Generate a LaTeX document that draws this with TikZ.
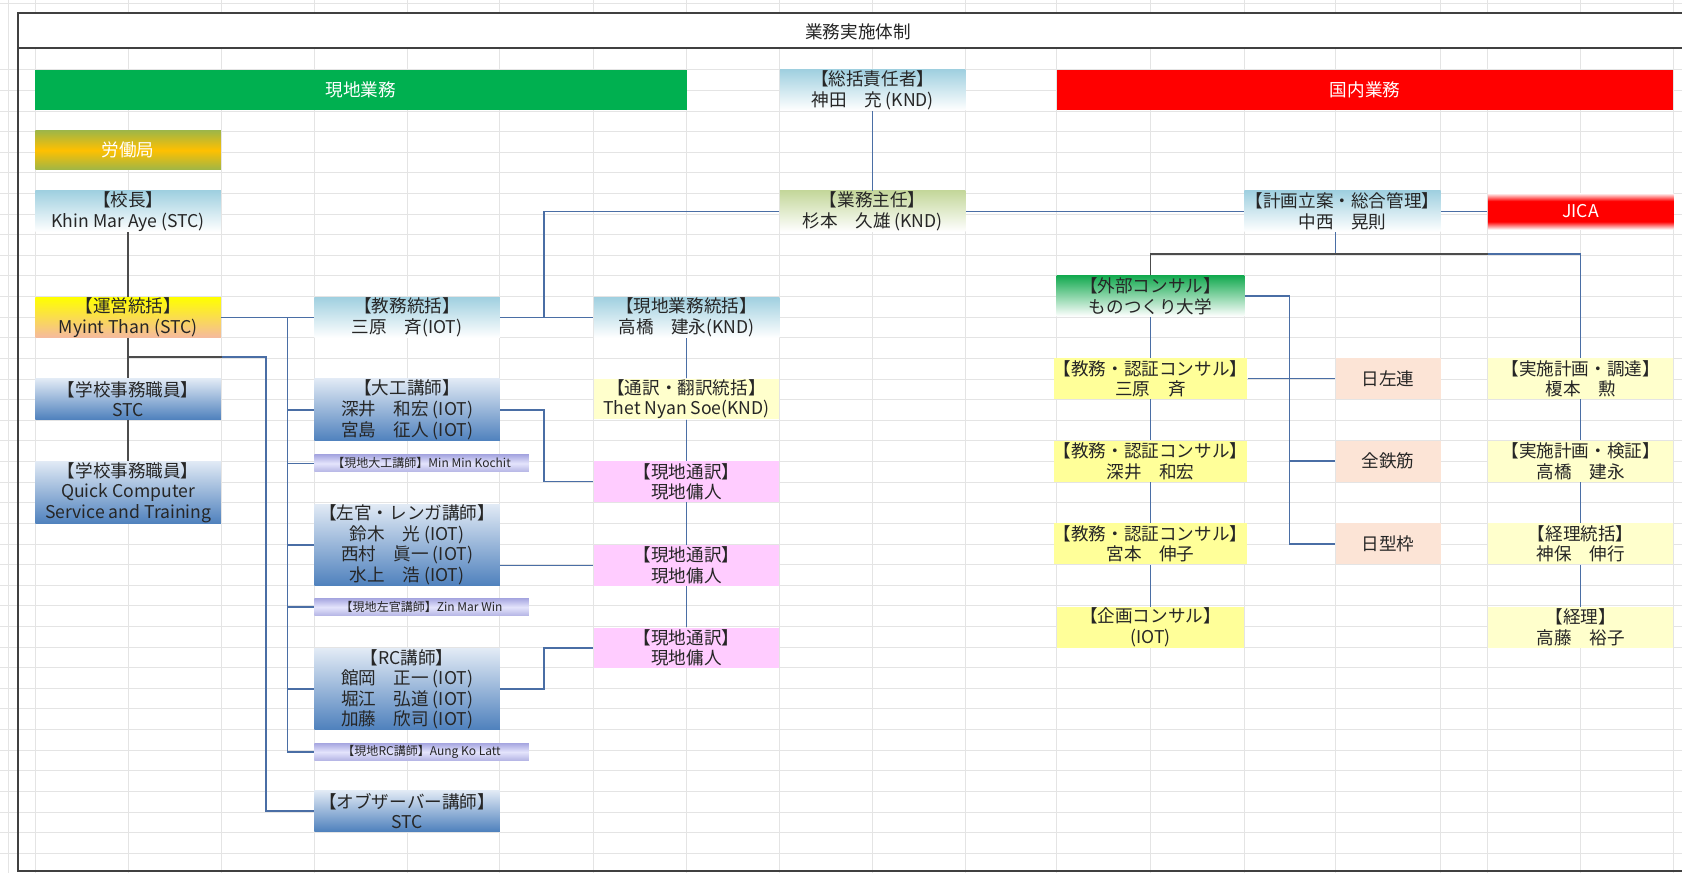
\documentclass[tikz,border=0pt]{standalone}
\usepackage{fontspec}
\setmainfont{Noto Sans CJK JP}
\usetikzlibrary{shadings}
\definecolor{hgreen}{RGB}{0,176,80}
\definecolor{lineblue}{RGB}{74,110,165}
\definecolor{gridc}{RGB}{228,228,228}
\definecolor{lbtop}{RGB}{160,208,224}
\definecolor{lgtop}{RGB}{196,215,155}
\definecolor{ggtop}{RGB}{20,170,80}
\definecolor{bltop}{RGB}{225,234,245}
\definecolor{blbot}{RGB}{79,129,189}
\definecolor{olive1}{RGB}{160,182,70}
\definecolor{gold1}{RGB}{255,192,0}
\definecolor{salmon1}{RGB}{245,185,160}
\definecolor{ylight}{RGB}{255,255,204}
\definecolor{ystrong}{RGB}{255,255,153}
\definecolor{pink1}{RGB}{255,204,255}
\definecolor{peach1}{RGB}{252,228,214}
\definecolor{lavA}{RGB}{168,168,225}
\definecolor{lavB}{RGB}{228,228,252}
\definecolor{lavC}{RGB}{180,180,228}
\pgfdeclareverticalshading{rodoshade}{100bp}{color(0bp)=(olive1); color(25bp)=(olive1); color(50bp)=(gold1); color(75bp)=(olive1); color(100bp)=(olive1)}
\pgfdeclareverticalshading{jicashade}{100bp}{color(0bp)=(white); color(25bp)=(white); color(36bp)=(red); color(64bp)=(red); color(75bp)=(white); color(100bp)=(white)}
\pgfdeclareverticalshading{lavshade}{100bp}{color(0bp)=(lavC); color(25bp)=(lavC); color(50bp)=(lavB); color(75bp)=(lavA); color(100bp)=(lavA)}
\tikzset{
  box/.style={rectangle, inner sep=0pt, align=center, text=black!85,
    font=\fontsize{8.2}{9.6}\selectfont},
  hdr/.style={box, text=white},
  lblue/.style={box, top color=lbtop, bottom color=white},
  lgreen/.style={box, top color=lgtop, bottom color=white},
  ggreen/.style={box, top color=ggtop, bottom color=white},
  bluebox/.style={box, top color=bltop, bottom color=blbot},
  unei/.style={box, top color=yellow, bottom color=salmon1},
  lav/.style={box, shade, shading=lavshade, font=\fontsize{5.6}{6}\selectfont},
  yl/.style={box, fill=ylight},
  ys/.style={box, fill=ystrong},
  pk/.style={box, fill=pink1},
  pc/.style={box, fill=peach1},
  wide/.style={minimum width=86.5pt},
  h2/.style={minimum height=19pt},
  h3/.style={minimum height=29pt},
  h4/.style={minimum height=38pt},
  bl/.style={draw=lineblue, line width=0.75pt},
  dk/.style={draw=black!70, line width=0.85pt},
  gridl/.style={draw=gridc, line width=0.4pt},
  frame/.style={draw=black!75, line width=1.1pt}
}
\begin{document}
\begin{tikzpicture}[x=0.5pt,y=-0.5pt]
\useasboundingbox (0,0) rectangle (1568,814);
\fill[white] (0,0) rectangle (1568,814);
% spreadsheet grid
\foreach \x in {8,33,120,206,293,380,466,553,640,727,813,900,985,1072,1160,1245,1343,1387,1473,1560}
  \draw[gridl] (\x,0) -- (\x,814);
\foreach \i in {0,...,38}
  \draw[gridl] (0,{65+19.22*\i}) -- (1568,{65+19.22*\i});
\draw[gridl] (0,3) -- (1568,3);
\fill[white] (17,12) rectangle (1568,45);
% frame
\draw[frame] (1568,12) -- (17,12) -- (17,812) -- (1568,812);
\draw[frame] (17,45) -- (1568,45);
\node[box] (title) at (800,30) {業務実施体制};

% headers
\node[hdr, fill=hgreen, minimum width=303.5pt, h2] (gen) at (336.5,84) {現地業務};
\node[hdr, fill=red, minimum width=287.5pt, h2] (koku) at (1272.5,84) {国内業務};
\node[lblue, wide, h2] (sokatsu) at (813.5,84) {【総括責任者】\\神田　充 (KND)};

% left column
\node[hdr, shade, shading=rodoshade, wide, minimum height=18pt] (rodo) at (119.5,140) {労働局};
\node[lblue, wide, h2] (kocho) at (119.5,197) {【校長】\\Khin Mar Aye (STC)};
\node[unei, wide, h2] (unei) at (119.5,296) {【運営統括】\\Myint Than (STC)};
\node[bluebox, wide, h2] (jimu1) at (119.5,372) {【学校事務職員】\\STC};
\node[bluebox, wide, h3] (jimu2) at (119.5,459) {【学校事務職員】\\Quick Computer\\Service and Training};

% middle
\node[lgreen, wide, h2] (shunin) at (813.5,197) {【業務主任】\\杉本　久雄 (KND)};
\node[lblue, wide, h2] (kyomu) at (379.5,296) {【教務統括】\\三原　斉(IOT)};
\node[lblue, wide, h2] (genchi) at (640,296) {【現地業務統括】\\高橋　建永(KND)};
\node[bluebox, wide, h3] (daiku) at (379.5,382) {【大工講師】\\深井　和宏 (IOT)\\宮島　征人 (IOT)};
\node[lav, minimum width=100pt, minimum height=8pt] (gdaiku) at (393,432) {【現地大工講師】Min Min Kochit};
\node[bluebox, wide, h4] (sakan) at (379.5,508) {【左官・レンガ講師】\\鈴木　光 (IOT)\\西村　眞一 (IOT)\\水上　浩 (IOT)};
\node[lav, minimum width=100pt, minimum height=8pt] (gsakan) at (393,566) {【現地左官講師】Zin Mar Win};
\node[bluebox, wide, minimum height=37.5pt] (rc) at (379.5,642.5) {【RC講師】\\館岡　正一 (IOT)\\堀江　弘道 (IOT)\\加藤　欣司 (IOT)};
\node[lav, minimum width=100pt, minimum height=8pt] (grc) at (393,701) {【現地RC講師】Aung Ko Latt};
\node[bluebox, wide, h2] (obs) at (379.5,756) {【オブザーバー講師】\\STC};

\node[yl, wide, h2] (tsuyaku) at (640,372) {【通訳・翻訳統括】\\Thet Nyan Soe(KND)};
\node[pk, wide, h2] (gt1) at (640,449) {【現地通訳】\\現地傭人};
\node[pk, wide, h2] (gt2) at (640,527) {【現地通訳】\\現地傭人};
\node[pk, wide, h2] (gt3) at (640,604) {【現地通訳】\\現地傭人};

% right side
\node[lblue, minimum width=91.5pt, h2] (keikaku) at (1251.5,197) {【計画立案・総合管理】\\中西　晃則};
\node[hdr, shade, shading=jicashade, wide, minimum height=17pt] (jica) at (1473.5,197) {JICA};
\node[ggreen, minimum width=87.5pt, h2] (gaibu) at (1072.5,276) {【外部コンサル】\\ものつくり大学};
\node[ys, minimum width=87.5pt, h2] (k1) at (1072.5,353) {【教務・認証コンサル】\\三原　斉};
\node[ys, minimum width=87.5pt, h2] (k2) at (1072.5,430) {【教務・認証コンサル】\\深井　和宏};
\node[ys, minimum width=87.5pt, h2] (k3) at (1072.5,507) {【教務・認証コンサル】\\宮本　伸子};
\node[ys, minimum width=87.5pt, h2] (k4) at (1072.5,585) {【企画コンサル】\\(IOT)};
\node[pc, minimum width=49pt, h2] (n1) at (1294,353) {日左連};
\node[pc, minimum width=49pt, h2] (n2) at (1294,430) {全鉄筋};
\node[pc, minimum width=49pt, h2] (n3) at (1294,507) {日型枠};
\node[yl, wide, h2] (r1) at (1473.5,353) {【実施計画・調達】\\榎本　勲};
\node[yl, wide, h2] (r2) at (1473.5,430) {【実施計画・検証】\\高橋　建永};
\node[yl, wide, h2] (r3) at (1473.5,507) {【経理統括】\\神保　伸行};
\node[yl, wide, h2] (r4) at (1473.5,585) {【経理】\\高藤　裕子};

% junction coordinates
\coordinate (jA) at (507,296);
\coordinate (jB) at (1245,237);
\coordinate (jC) at (1387,237);
\coordinate (jD) at (1202,276);
\coordinate (jE) at (507,449);
\coordinate (jF) at (507,604);
\coordinate (jG) at (268,296);
\coordinate (jH) at (119.5,333);
\coordinate (jI) at (207,333);
\coordinate (jJ) at (248,333);

% connectors
\draw[bl] (sokatsu.south) -- (shunin.north);
\draw[bl] (shunin.west) -| (jA);
\draw[bl] (kyomu.east) -- (genchi.west);
\draw[bl] (shunin.east) -- (keikaku.west);
\draw[bl] (keikaku.east) -- (jica.west);
\draw[bl] (keikaku.south -| jB) -- (jB);
\draw[dk] (gaibu.north) |- (jC);
\draw[bl] (jC) -| (r1.north);
\draw[bl] (gaibu.south) -- (k1.north);
\draw[bl] (k1.south) -- (k2.north);
\draw[bl] (k2.south) -- (k3.north);
\draw[bl] (k3.south) -- (k4.north);
\draw[bl] (r1.south) -- (r2.north);
\draw[bl] (r2.south) -- (r3.north);
\draw[bl] (r3.south) -- (r4.north);
\draw[bl] (gaibu.east) -- (jD) |- (n3.west);
\draw[bl] (k1.east) -- (n1.west);
\draw[bl] (jD |- n2.west) -- (n2.west);
\draw[bl] (genchi.south) -- (tsuyaku.north);
\draw[bl] (tsuyaku.south) -- (gt1.north);
\draw[bl] (gt1.south) -- (gt2.north);
\draw[bl] (gt2.south) -- (gt3.north);
\draw[bl] (daiku.east) -| (jE) -- (gt1.west);
\draw[bl] (sakan.east |- gt2.west) -- (gt2.west);
\draw[bl] (rc.east) -| (jF) -- (gt3.west);
\draw[dk] (kocho.south) -- (unei.north);
\draw[dk] (unei.south) -- (jimu1.north);
\draw[dk] (jimu1.south) -- (jimu2.north);
\draw[bl] (unei.east) -- (kyomu.west);
\draw[bl] (jG) |- (grc.west);
\draw[bl] (jG |- daiku.west) -- (daiku.west);
\draw[bl] (jG |- gdaiku.west) -- (gdaiku.west);
\draw[bl] (jG |- sakan.west) -- (sakan.west);
\draw[bl] (jG |- gsakan.west) -- (gsakan.west);
\draw[bl] (jG |- rc.west) -- (rc.west);
\draw[dk] (jH) -- (jI);
\draw[bl] (jI) -- (jJ) |- (obs.west);
\end{tikzpicture}
\end{document}
